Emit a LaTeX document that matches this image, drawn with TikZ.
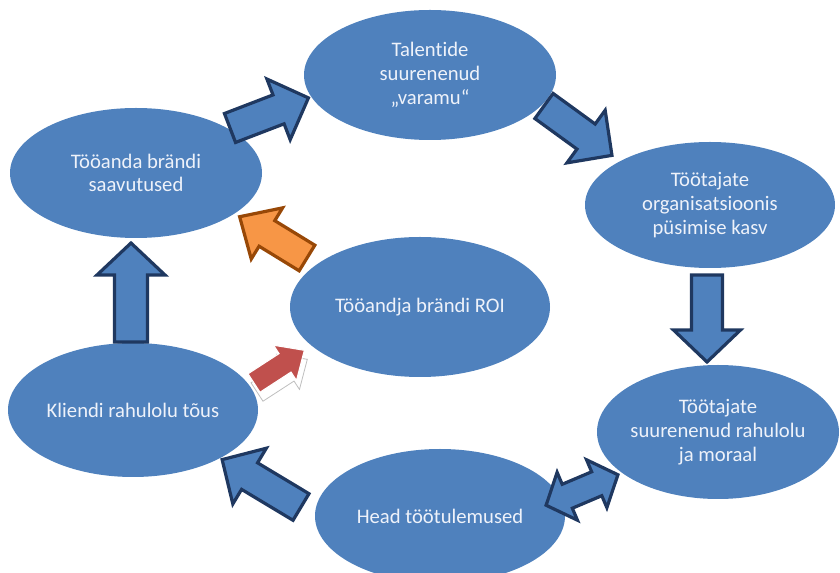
\documentclass[tikz,border=0pt]{standalone}
\usepackage{fontspec}
\setmainfont{Carlito}[Ligatures=NoCommon]
\usetikzlibrary{shapes.geometric}

\definecolor{ovalblue}{RGB}{79,129,189}
\definecolor{arrowline}{RGB}{31,56,96}
\definecolor{orangefill}{RGB}{247,150,70}
\definecolor{orangeline}{RGB}{152,72,7}
\definecolor{redfill}{RGB}{192,80,77}
\definecolor{ovaltext}{RGB}{238,242,250}

\tikzset{
  oval/.style={ellipse, fill=ovalblue, draw=none, inner sep=0pt},
  ovallabel/.style={text=ovaltext, align=center,
    font=\fontsize{15.5pt}{17.8pt}\selectfont},
  bluearrow/.style={fill=ovalblue, draw=arrowline, line width=2.4pt, line join=miter},
  orangearrow/.style={fill=orangefill, draw=orangeline, line width=2.4pt, line join=miter},
  % block arrow: length / half shaft width / half head width / head length
  pics/barrow/.style args={#1/#2/#3/#4}{code={
    \path[pic actions] (0,-#2) -- (#1-#4,-#2) -- (#1-#4,-#3) -- (#1,0)
      -- (#1-#4,#3) -- (#1-#4,#2) -- (0,#2) -- cycle;
  }},
  % double-headed block arrow centred on the origin
  pics/dblarrow/.style args={#1/#2/#3/#4}{code={
    \path[pic actions] (-#1,0) -- (-#1+#4,-#3) -- (-#1+#4,-#2) -- (#1-#4,-#2)
      -- (#1-#4,-#3) -- (#1,0) -- (#1-#4,#3) -- (#1-#4,#2) -- (-#1+#4,#2)
      -- (-#1+#4,#3) -- cycle;
  }},
}

\begin{document}
\begin{tikzpicture}[x=0.75pt,y=-0.75pt]
  \useasboundingbox (0,0) rectangle (840,573);
  \clip (0,0) rectangle (840,573);

  % ovals
  \node[oval, minimum width=189pt, minimum height=97.5pt] (talent) at (430,75) {};
  \node[oval, minimum width=189pt, minimum height=97.5pt] (brand) at (136,173) {};
  \node[oval, minimum width=187.5pt, minimum height=94.5pt] (retain) at (710,205) {};
  \node[oval, minimum width=195pt, minimum height=105pt] (roi) at (420,307) {};
  \node[oval, minimum width=187.5pt, minimum height=100.5pt] (client) at (133,410) {};
  \node[oval, minimum width=181.5pt, minimum height=100.5pt] (morale) at (718,432) {};
  \node[oval, minimum width=187.5pt, minimum height=100.5pt] (result) at (440,516) {};

  % oval texts
  \node[ovallabel] (talentT) at (talent.center) {Talentide\\suurenenud\\„varamu“};
  \node[ovallabel] (brandT) at (brand.center) {Tööanda brändi\\saavutused};
  \node[ovallabel] (retainT) at (retain.center) {Töötajate\\organisatsioonis\\püsimise kasv};
  \node[ovallabel] (roiT) at (roi.center) {Tööandja brändi ROI};
  \node[ovallabel] (clientT) at (client.center) {Kliendi rahulolu tõus};
  \node[ovallabel] (moraleT) at (morale.center) {Töötajate\\suurenenud rahulolu\\ja moraal};
  \node[ovallabel] (resultT) at (result.center) {Head töötulemused};

  % arrow anchors between the ovals (tail centres)
  \coordinate (a1) at (230,128);
  \coordinate (a2) at (544,106);
  \coordinate (a3) at (707,275);
  \coordinate (a4) at (582,490);
  \coordinate (a5) at (301,507);
  \coordinate (a6) at (131,342);
  \coordinate (a7) at (307,258);
  \coordinate (a8) at (254,383);

  % cycle arrows (y axis points down, so angles are mirrored)
  \pic[bluearrow, rotate=21] at (a1) {barrow=84/15.5/32.5/32};
  \pic[bluearrow, rotate=-36] at (a2) {barrow=84/15.5/32.5/32};
  \pic[bluearrow, rotate=-90] at (a3) {barrow=87/15.5/33.5/32};
  \pic[bluearrow, rotate=23] at (a4) {dblarrow=39/13/26/23};
  \pic[bluearrow, rotate=149] at (a5) {barrow=92/15.5/32.5/32};
  \pic[bluearrow, rotate=90] at (a6) {barrow=99/16.5/34/32};

  % arrows towards the centre oval
  \pic[orangearrow, rotate=148.5] at (a7) {barrow=79/15/30/32};
  \pic[fill=white, draw=black!25, line width=0.6pt, rotate=33]
    at ([shift={(3,9)}]a8) {barrow=60/11/21/23};
  \pic[fill=redfill, draw=white, line width=0.8pt, rotate=33] at (a8)
    {barrow=60/11/21/23};
\end{tikzpicture}
\end{document}
